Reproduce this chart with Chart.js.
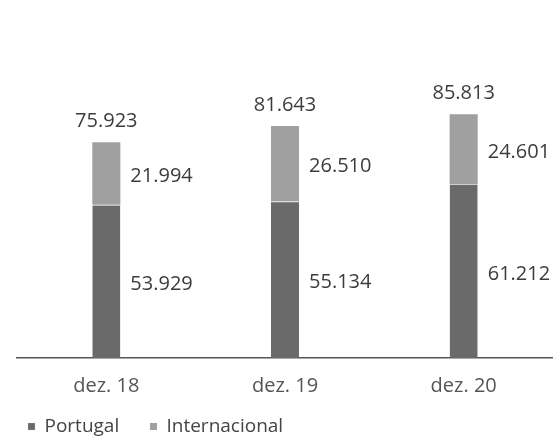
<!DOCTYPE html>
<html>
<head>
<meta charset="utf-8">
<script src="https://cdn.jsdelivr.net/npm/chart.js@4/dist/chart.umd.min.js"></script>
<style>
  html, body { margin: 0; padding: 0; background: #fff; }
  canvas { display: block; }
</style>
</head>
<body>
<canvas id="chart" width="553" height="437"></canvas>
<script>
// dados (milhares)
const categorias = ['dez. 18', 'dez. 19', 'dez. 20'];
const portugal = [53929, 55134, 61212];
const internacional = [21994, 26510, 24601];
const totais = [75923, 81643, 85813];

function fmt(v) {
  return String(v).replace(/\B(?=(\d{3})+(?!\d))/g, '.');
}

// rótulos de valores
const valueLabels = {
  id: 'valueLabels',
  afterDatasetsDraw(chart) {
    const ctx = chart.ctx;
    ctx.save();
    ctx.font = '20px "Open Sans"';
    ctx.fillStyle = '#3c3c3c';
    ctx.textBaseline = 'middle';
    chart.data.datasets.forEach(function(ds, i) {
      const meta = chart.getDatasetMeta(i);
      meta.data.forEach(function(bar, j) {
        const half = bar.width / 2;
        ctx.textAlign = 'left';
        ctx.fillText(fmt(ds.data[j]), bar.x + half + 10, (bar.y + bar.base) / 2 + 3);
      });
    });
    const top = chart.getDatasetMeta(chart.data.datasets.length - 1);
    top.data.forEach(function(bar, j) {
      ctx.textAlign = 'center';
      ctx.fillText(fmt(totais[j]), bar.x, bar.y - 21);
    });
    ctx.restore();
  }
};

document.addEventListener('DOMContentLoaded', function() {
  const el = document.getElementById('chart');
  new Chart(el, {
    type: 'bar',
    data: {
      labels: categorias,
      datasets: [{
        label: 'Portugal',
        data: portugal,
        backgroundColor: '#6a6a6a',
        borderColor: '#cfcfcf',
        borderWidth: { top: 1, right: 0, bottom: 0, left: 0 },
        borderSkipped: false,
        barPercentage: 0.157,
        categoryPercentage: 1
      }, {
        label: 'Internacional',
        data: internacional,
        backgroundColor: '#a0a0a0',
        barPercentage: 0.157,
        categoryPercentage: 1
      }]
    },
    options: {
      responsive: false,
      animation: false,
      devicePixelRatio: 1,
      layout: { padding: { left: 17, right: 0, top: 17, bottom: -9 } },
      plugins: {
        legend: {
          position: 'bottom',
          align: 'start',
          labels: {
            boxWidth: 7,
            boxHeight: 7,
            padding: 11,
            color: '#444',
            font: { family: 'Open Sans', size: 19 },
            // espaço extra entre itens
            generateLabels(chart) {
              const items = Chart.defaults.plugins.legend.labels.generateLabels(chart);
              items[0].text = items[0].text + '    ';
              return items;
            }
          }
        },
        tooltip: { enabled: false }
      },
      scales: {
        x: {
          stacked: true,
          grid: { display: false },
          border: { color: '#555', width: 1.5 },
          ticks: { color: '#555', padding: 6, font: { family: 'Open Sans', size: 20, lineHeight: 1.4 } }
        },
        y: {
          stacked: true,
          display: false,
          min: 0,
          max: 120000
        }
      }
    },
    plugins: [valueLabels]
  });
});
</script>
</body>
</html>
